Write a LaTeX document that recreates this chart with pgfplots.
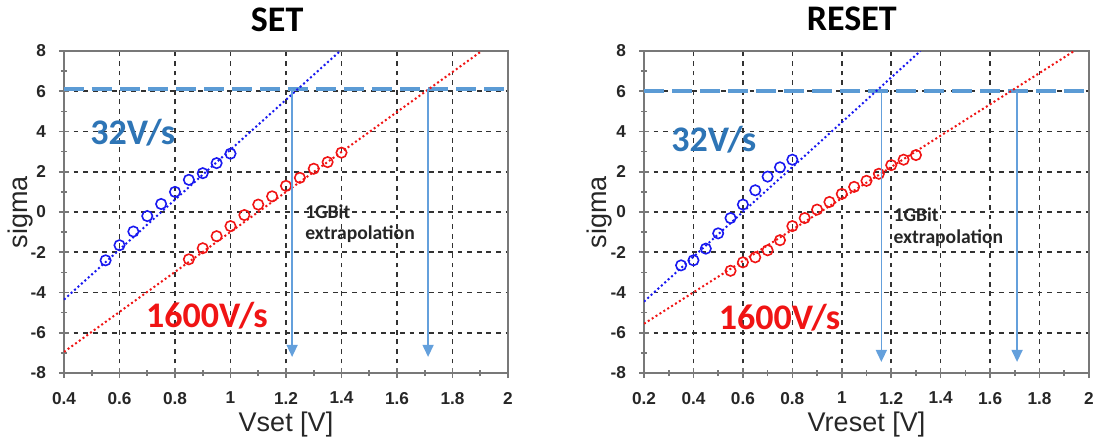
\documentclass[border=0pt]{standalone}
\usepackage{fontspec}
\setmainfont{Liberation Sans}
\newfontfamily\calib{Carlito}
\usepackage{pgfplots}
\pgfplotsset{compat=1.18}
\usetikzlibrary{arrows.meta}
\definecolor{serblue}{RGB}{25,25,240}
\definecolor{serred}{RGB}{240,20,20}
\definecolor{lblue}{RGB}{91,155,213}
\definecolor{arrblue}{RGB}{100,160,220}
\definecolor{txtblue}{RGB}{46,117,182}
\definecolor{gridc}{RGB}{50,50,50}
\definecolor{axc}{RGB}{120,120,120}

\pgfplotsset{myaxis/.style={
  scale only axis, height=161pt,
  ymin=-8, ymax=8, ytick={-8,-6,-4,-2,0,2,4,6,8}, minor y tick num=1,
  minor x tick num=1,
  grid=major,
  major grid style={dash pattern=on 2.4pt off 2.4pt, line width=0.8pt, color=gridc},
  axis line style={color=axc, line width=1pt},
  tick style={color=axc, line width=0.8pt},
  tick align=center, major tick length=5pt, minor tick length=3pt,
  xtick pos=left, ytick pos=left,
  tick label style={font=\bfseries\fontsize{8.6}{9}\selectfont, text=black!85},
  yticklabel style={xshift=-3pt},
  xticklabel style={yshift=-3.5pt},
  /pgf/number format/assume math mode=true,
  every axis y label/.style={at={(axis description cs:-0.099,0.5)},rotate=90,anchor=center,
     font=\fontsize{13.5}{15}\selectfont, text=black!85},
  every axis x label/.style={at={(axis description cs:0.5,-0.1615)},anchor=center,
     font=\fontsize{13.5}{15}\selectfont, text=black!85},
  clip mode=individual,
}}
\tikzset{
  fitline/.style={line width=1pt, dash pattern=on 1pt off 1.3pt},
  circ/.style={only marks, mark=o, mark size=2.6pt, mark options={line width=0.8pt}},
  hdash/.style={color=lblue, line width=2pt, dash pattern=on 10pt off 4pt},
  varr/.style={color=arrblue, line width=0.75pt, -{Triangle[width=5.5pt,length=6pt]}},
  bigtxt/.style={font=\calib\bfseries\fontsize{18}{18}\selectfont},
  smtxt/.style={anchor=west, inner sep=0pt, font=\calib\bfseries\fontsize{9.8}{10}\selectfont, text=black!85},
  ttl/.style={font=\calib\bfseries\fontsize{18}{20}\selectfont, text=black},
}

\begin{document}
\begin{tikzpicture}
\useasboundingbox (0,0) rectangle (548pt,220.5pt);

% ---------------- SET ----------------
\begin{axis}[myaxis, width=222pt, at={(32pt,34pt)}, anchor=south west,
  xmin=0.4, xmax=2.0, xtick={0.4,0.6,0.8,1,1.2,1.4,1.6,1.8,2},
  xlabel={Vset [V]}, ylabel={sigma}]
\addplot[hdash] coordinates {(0.4,6.1) (2.0,6.1)};
\addplot[fitline, serblue] coordinates {(0.4,-4.35) (1.395,8)};
\addplot[fitline, serred] coordinates {(0.4,-6.95) (1.905,8)};
\addplot[circ, serblue] coordinates {
(0.55,-2.4)(0.60,-1.65)(0.65,-0.97)(0.70,-0.2)(0.75,0.4)(0.80,1.0)(0.85,1.6)(0.90,1.93)(0.95,2.43)(1.00,2.9)};
\addplot[circ, serred] coordinates {
(0.85,-2.35)(0.90,-1.8)(0.95,-1.2)(1.00,-0.7)(1.05,-0.15)(1.10,0.37)(1.15,0.78)(1.20,1.3)(1.25,1.7)(1.30,2.15)(1.35,2.48)(1.40,2.95)};
\addplot[varr] coordinates {(1.222,6.1) (1.222,-7.2)};
\addplot[varr] coordinates {(1.712,6.1) (1.712,-7.2)};
\node[bigtxt, text=txtblue] at (axis cs:0.648,3.95) {32V/s};
\node[bigtxt, text=serred] at (axis cs:0.915,-5.17) {1600V/s};
\node[smtxt] at (axis cs:1.268,0) {1GBit};
\node[smtxt] at (axis cs:1.268,-1.1) {extrapolation};
\node[ttl] at (axis description cs:0.48,1.096) {SET};
\end{axis}

% ---------------- RESET ----------------
\begin{axis}[myaxis, width=222.5pt, at={(322pt,34pt)}, anchor=south west,
  xmin=0.2, xmax=2.0, xtick={0.2,0.4,0.6,0.8,1,1.2,1.4,1.6,1.8,2},
  xlabel={Vreset [V]}, ylabel={sigma}]
\addplot[hdash] coordinates {(0.2,6.0) (2.0,6.0)};
\addplot[fitline, serblue] coordinates {(0.2,-4.45) (1.318,8)};
\addplot[fitline, serred] coordinates {(0.2,-5.55) (1.94,8)};
\addplot[circ, serblue] coordinates {
(0.35,-2.65)(0.40,-2.4)(0.45,-1.82)(0.50,-1.06)(0.55,-0.3)(0.60,0.37)(0.65,1.08)(0.70,1.76)(0.75,2.22)(0.80,2.6)};
\addplot[circ, serred] coordinates {
(0.55,-2.92)(0.60,-2.5)(0.65,-2.25)(0.70,-1.9)(0.75,-1.4)(0.80,-0.7)(0.85,-0.3)(0.90,0.12)(0.95,0.5)(1.00,0.9)(1.05,1.25)(1.10,1.55)(1.15,1.9)(1.20,2.33)(1.25,2.6)(1.30,2.83)};
\addplot[varr] coordinates {(1.16,6.0) (1.16,-7.45)};
\addplot[varr] coordinates {(1.709,6.0) (1.709,-7.45)};
\node[bigtxt, text=txtblue] at (axis cs:0.482,3.6) {32V/s};
\node[bigtxt, text=serred] at (axis cs:0.748,-5.25) {1600V/s};
\node[smtxt] at (axis cs:1.208,-0.15) {1GBit};
\node[smtxt] at (axis cs:1.208,-1.3) {extrapolation};
\node[ttl] at (axis description cs:0.467,1.1) {RESET};
\end{axis}
\end{tikzpicture}
\end{document}
